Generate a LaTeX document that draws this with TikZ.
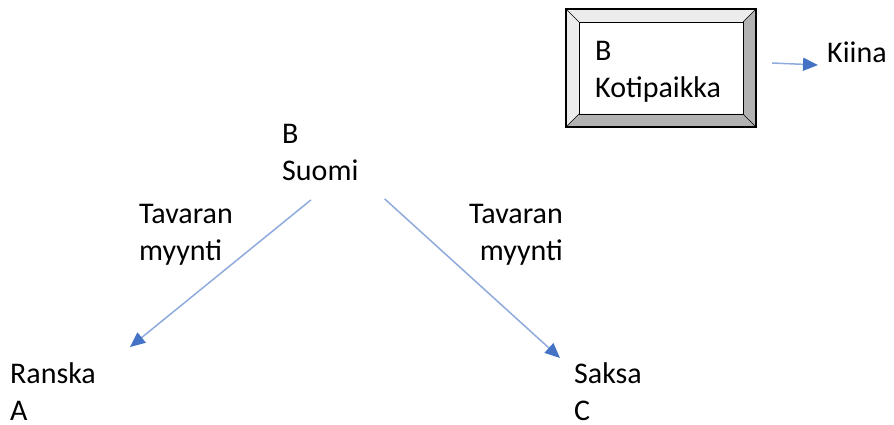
\documentclass[tikz,border=0pt]{standalone}
\usepackage{fontspec}
\setmainfont{Carlito}
\usetikzlibrary{arrows.meta}
\definecolor{lineblue}{HTML}{8FAADC}
\definecolor{headblue}{HTML}{4472C4}

\begin{document}
\begin{tikzpicture}[x=1pt,y=-1pt,
    place node/.style={anchor=north west,inner sep=0pt,align=left,font=\fontsize{30}{37}\selectfont},
    sale edge/.style={draw=lineblue,line width=1.5pt,-{Triangle[length=15pt,width=13pt,color=headblue]}}]
  \useasboundingbox (0,0) rectangle (894,425);

  % bevelled frame round the home country
  \fill[gray!15] (566,9) -- (756,9) -- (743,22) -- (579,22) -- (579,114) -- (566,127) -- cycle;
  \fill[gray!60] (756,9) -- (756,127) -- (566,127) -- (579,114) -- (743,114) -- (743,22) -- cycle;
  \draw[line width=1.2pt] (566,9) rectangle (756,127);
  \draw (579,22) rectangle (743,114);
  \draw (566,9) -- (579,22) (756,9) -- (743,22) (566,127) -- (579,114) (756,127) -- (743,114);

  \node[place node] (koti) at (595,41) {B\\Kotipaikka};
  \node[place node,anchor=base west] (kiina) at (827,63) {Kiina};
  \node[place node] (suomi) at (282,124) {B\\Suomi};
  \node[place node] (myyntiA) at (139,204) {Tavaran\\myynti};
  \node[place node,anchor=north east,align=right] (myyntiC) at (563,204) {Tavaran\\myynti};
  \node[place node] (ranska) at (10,362) {Ranska\\A};
  \node[place node] (saksa) at (574,362) {Saksa\\C};

  \path
  ([xshift=51pt,yshift=-22pt]koti.north east) edge[sale edge] ([xshift=-9pt,yshift=-2pt]kiina.base west)
  ([xshift=29pt,yshift=-19pt]suomi.south west) edge[sale edge] ([xshift=34pt,yshift=15pt]ranska.north east)
  ([xshift=26pt,yshift=-18pt]suomi.south east) edge[sale edge] ([xshift=-14pt,yshift=4pt]saksa.north west);
\end{tikzpicture}
\end{document}
